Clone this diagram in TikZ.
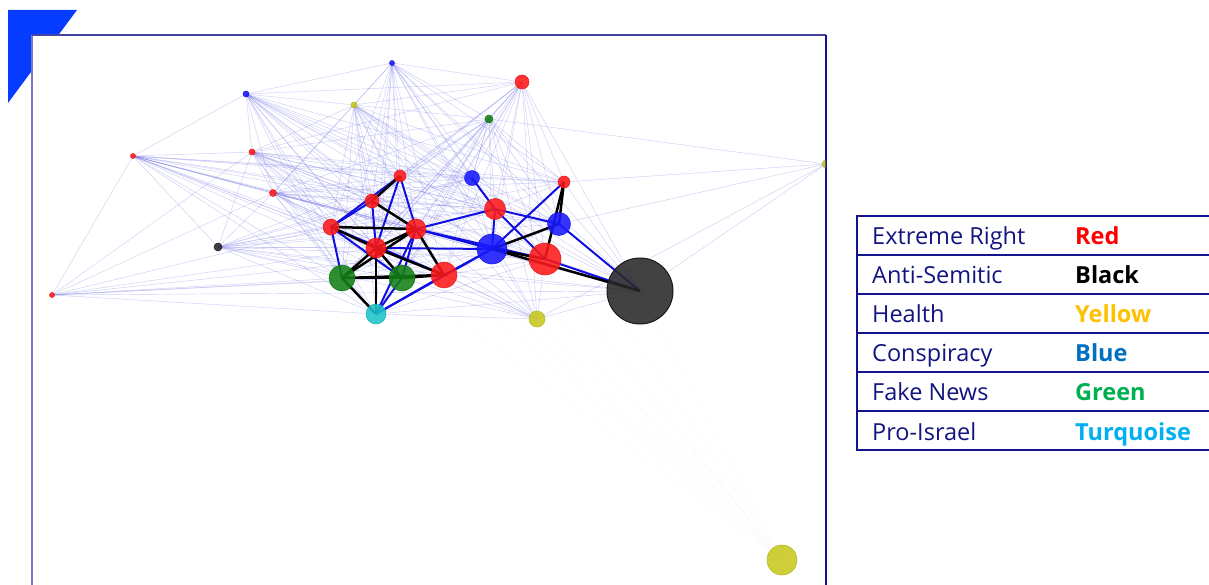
\documentclass[tikz,border=0pt]{standalone}
\usepackage{fontspec}
\setmainfont{Open Sans}
\pgfdeclarelayer{bglayer}
\pgfdeclarelayer{edgelayer}
\pgfsetlayers{bglayer,edgelayer,main}
\definecolor{cornerblue}{RGB}{5,60,255}
\definecolor{frameblue}{RGB}{20,20,140}
\definecolor{framelight}{RGB}{120,120,200}
\definecolor{navytext}{RGB}{20,20,128}
\definecolor{lgRed}{RGB}{255,0,0}
\definecolor{lgYellow}{RGB}{255,192,0}
\definecolor{lgBlue}{RGB}{0,112,192}
\definecolor{lgGreen}{RGB}{0,176,80}
\definecolor{lgTurq}{RGB}{0,176,240}
\definecolor{faintc}{RGB}{110,110,230}
\definecolor{strongblue}{RGB}{15,15,225}
\definecolor{nR}{RGB}{255,25,25}
\definecolor{nB}{RGB}{25,25,255}
\definecolor{nG}{RGB}{20,128,20}
\definecolor{nT}{RGB}{30,195,200}
\definecolor{nY}{RGB}{200,200,30}
\definecolor{nK}{RGB}{40,40,40}
\tikzset{
  nd/.style={circle, inner sep=0pt, fill opacity=0.88, line width=0.5pt},
  cR/.style={nd, fill=nR, draw=nR!90!black},
  cB/.style={nd, fill=nB, draw=nB!90!black},
  cG/.style={nd, fill=nG, draw=nG!90!black},
  cT/.style={nd, fill=nT, draw=nT!90!black},
  cY/.style={nd, fill=nY, draw=nY!90!black},
  cK/.style={nd, fill=nK, draw=black!90, line width=1pt},
  fe/.style={draw=faintc, line width=0.45pt, opacity=0.33},
  fy/.style={draw=faintc, line width=0.45pt, opacity=0.045},
  bl/.style={draw=strongblue, line width=2pt},
  bk/.style={draw=black, line width=2.5pt},
  lgl/.style={anchor=base west, text=navytext, font=\fontsize{23.5}{27}\selectfont, inner sep=0pt},
  lgr/.style={anchor=base west, font=\fontsize{23.5}{27}\selectfont\bfseries, inner sep=0pt},
}
\begin{document}
\begin{tikzpicture}[x=1pt,y=-1pt]
\useasboundingbox (0,0) rectangle (1209,585);
\begin{pgfonlayer}{bglayer}
% corner mark
\fill[cornerblue] (8,10) -- (77,10) -- (8,103) -- cycle;
% frame
\fill[white] (32,35) rectangle (826,585);
\draw[framelight, line width=1.2pt] (32,585) -- (32,35);
\draw[frameblue!80!white, line width=1.2pt] (32,35) -- (826,35);
\draw[frameblue, line width=1.2pt] (826,35) -- (826,585);
\end{pgfonlayer}

\begin{scope}
\clip (33,36) rectangle (825.4,585);
% peripheral nodes
\node[cB, minimum size=5] (P1) at (392,63) {};
\node[cB, minimum size=6] (P2) at (246,94) {};
\node[cY, minimum size=6] (P3) at (354,105) {};
\node[cR, minimum size=5] (P4) at (133,156) {};
\node[cR, minimum size=6] (P5) at (252,152) {};
\node[cR, minimum size=7] (P6) at (273,193) {};
\node[cK, minimum size=8, line width=0.5pt] (P7) at (218,247) {};
\node[cR, minimum size=5] (P8) at (52,295) {};
\node[cR, minimum size=14] (P9) at (522,82) {};
\node[cG, minimum size=8] (P10) at (489,119) {};
\node[cY, minimum size=8] (P11) at (826,164) {};
\node[cY, minimum size=30] (Y2) at (782,560) {};
% cluster nodes
\node[cR, minimum size=12] (R1) at (400,176) {};
\node[cR, minimum size=14] (R2) at (372,201) {};
\node[cR, minimum size=16] (R3) at (331,227) {};
\node[cR, minimum size=20] (R4) at (416,229) {};
\node[cR, minimum size=20] (R5) at (376,248) {};
\node[cG, minimum size=26] (G1) at (342,278) {};
\node[cG, minimum size=26] (G2) at (402,278) {};
\node[cR, minimum size=26] (R6) at (444,275) {};
\node[cT, minimum size=20] (T) at (376,314) {};
\node[cB, minimum size=15] (B1) at (472,178) {};
\node[cR, minimum size=21] (R7) at (495,209) {};
\node[cB, minimum size=30] (B2) at (492,249) {};
\node[cR, minimum size=12] (R8) at (564,182) {};
\node[cB, minimum size=23] (B3) at (559,224) {};
\node[cR, minimum size=32] (R9) at (545,259) {};
\node[cY, minimum size=16] (Y1) at (537,319) {};
\node[cK, minimum size=66] (K) at (640,291) {};
\end{scope}

\begin{pgfonlayer}{edgelayer}
% faint edges: peripheral to cluster
\foreach \p in {P1,P2,P3,P4,P5,P6,P7,P9,P10}{
  \foreach \c in {R1,R2,R3,R4,R5,G1,G2,R6,T,B1,R7,B2,R8,B3,R9,Y1,K}{
    \draw[fe] (\p.center) -- (\c.center);
  }
}
\foreach \c in {P4,P5,P6,R3,G1,R5,G2,R6,T,B2,K}{
  \draw[fe] (P8.center) -- (\c.center);
}
\foreach \a/\b in {P1/P2,P1/P3,P2/P3,P2/P4,P2/P5,P3/P5,P3/P6,P4/P5,P4/P6,P4/P7,P5/P6,P9/P10,P9/P3,P9/P2,P9/P5,P10/P3,P10/P1,P1/P9,P10/P11,P1/P6,P2/P6,P7/P6,P7/P5,P10/P5,P10/P6}{
  \draw[fe] (\a.center) -- (\b.center);
}
% faint edges inside cluster
\foreach \a/\b in {R1/B1,R2/B1,R3/B1,B1/R8,B1/B3,B1/B2,R7/R8,R6/R9,R6/B3,R6/K,G1/B2,G2/B2,T/Y1,G2/Y1,R6/Y1,B2/Y1,R9/Y1,K/Y1,R3/R7,R5/R7,G1/R7,T/R9,T/K,R1/R7,R2/R7,R1/B3,R7/K,R8/K}{
  \draw[fe] (\a.center) -- (\b.center);
}
\foreach \c in {R8,B3,Y1,K}{
  \draw[fe] (P11.center) -- (\c.center);
}
% very faint edges to the far yellow node
\foreach \c in {R6,B2,R9,G2,Y1,K,R7,B3,R4}{
  \draw[fy] (Y2.center) -- (\c.center);
}
% strong blue edges
\foreach \a/\b in {R3/R1,R2/R3,R1/R5,R1/R4,R2/R5,R3/G1,R3/G2,R4/R7,R4/B2,R4/T,R5/B2,G2/T,R6/T,R6/B2,T/B2,B1/R7,R7/B2,R7/B3,R7/R9,R8/B2,B3/K,R4/R9,R9/K,R3/R6,R4/G2}{
  \draw[bl] (\a.center) -- (\b.center);
}
% strong black edges
\foreach \a/\b in {R1/R2,R2/R4,R3/R4,R3/R5,R4/R5,R4/G1,R4/R6,R5/G1,R5/G2,R5/R6,R5/T,G1/G2,G1/R6,G1/T,G2/R6,R8/B3,R8/R9,B3/B2,B2/K,B2/R9}{
  \draw[bk] (\a.center) -- (\b.center);
}
\end{pgfonlayer}

% legend
\draw[frameblue, line width=1.6pt] (857,216) rectangle (1215,450);
\foreach \yy in {255,294,333,372,411}{
  \draw[frameblue, line width=1.6pt] (857,\yy) -- (1215,\yy);
}
\node[lgl] (l1) at (872,244) {Extreme Right};
\node[lgl] (l2) at (872,283) {Anti-Semitic};
\node[lgl] (l3) at (872,322) {Health};
\node[lgl] (l4) at (872,361) {Conspiracy};
\node[lgl] (l5) at (872,400) {Fake News};
\node[lgl] (l6) at (872,440) {Pro-Israel};
\node[lgr, text=lgRed] (c1) at (1075,244) {Red};
\node[lgr, text=black] (c2) at (1075,283) {Black};
\node[lgr, text=lgYellow] (c3) at (1075,322) {Yellow};
\node[lgr, text=lgBlue] (c4) at (1075,361) {Blue};
\node[lgr, text=lgGreen] (c5) at (1075,400) {Green};
\node[lgr, text=lgTurq] (c6) at (1075,440) {Turquoise};
\end{tikzpicture}
\end{document}
